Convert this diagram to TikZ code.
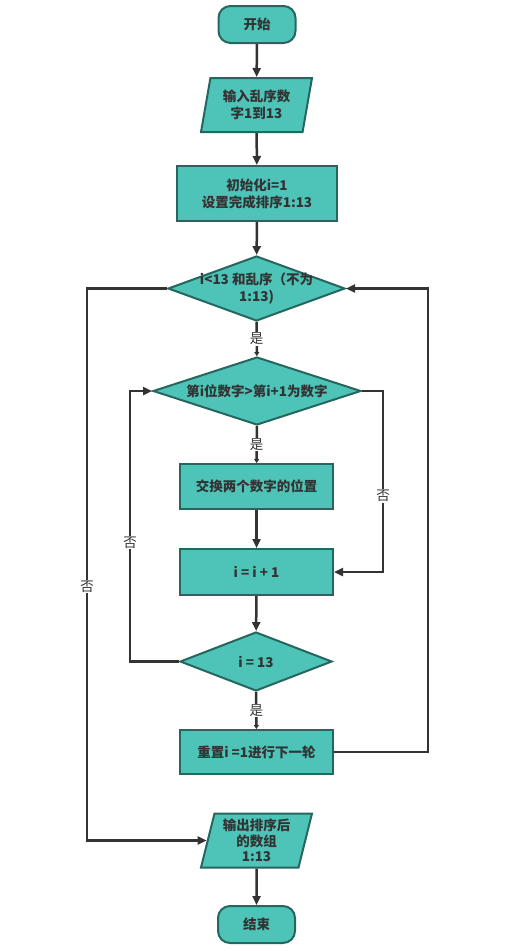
\documentclass[tikz,border=0pt]{standalone}
\usepackage{fontspec}
\setmainfont{Noto Sans CJK SC}
\usetikzlibrary{shapes.geometric,arrows.meta}
\definecolor{tfill}{HTML}{4EC3B8}
\definecolor{tdraw}{HTML}{25675E}
\definecolor{tline}{HTML}{333333}
\begin{document}
\begin{tikzpicture}[x=1pt,y=-1pt,
  tfont/.style={text=tline,font=\fontsize{13.5}{17}\selectfont\bfseries,align=center},
  base/.style={draw=tdraw,fill=tfill,line width=2pt,tfont,inner sep=0pt},
  term/.style={base,rounded corners=12pt,minimum width=77pt,minimum height=37pt},
  proc/.style={base,minimum width=153pt,minimum height=45pt},
  io/.style={base,trapezium,trapezium left angle=72.5,trapezium right angle=107.5,trapezium stretches body,minimum width=111pt,minimum height=54pt},
  dec/.style={base,diamond,aspect=2.7},
  conn/.style={draw=tline,line width=2.5pt,-{Triangle[length=9pt,width=8pt]}},
  sconn/.style={draw=tline,line width=2.5pt,-{Triangle[length=4pt,width=5pt]}},
  lbl/.style={fill=white,text=tline,font=\fontsize{13.5}{16}\selectfont,inner sep=1pt}
]
\useasboundingbox (0,0) rectangle (515,951);
\node[term] (start) at (257,24.5) {开始};
\node[io] (in) at (256.5,105) {输入乱序数\\字1到13};
\node[proc,minimum width=160pt,minimum height=55pt] (init) at (257,193.5) {初始化i=1\\设置完成排序1:13};
\node[dec,minimum width=177pt,minimum height=65pt,label={[tfont]center:i<13 和乱序（不为\\1:13)}] (d1) at (256.5,288.5) {};
\node[dec,minimum width=208pt,minimum height=68pt] (d2) at (257,391) {第i位数字>第i+1为数字};
\node[proc] (swap) at (256.5,486.5) {交换两个数字的位置};
\node[proc,minimum height=46pt] (inc) at (256.5,572) {i = i + 1};
\node[dec,minimum width=152pt,minimum height=59pt] (d3) at (256,661.5) {i = 13};
\node[proc,minimum height=44pt] (reset) at (256.5,752) {重置i =1进行下一轮};
\node[io,font=\fontsize{13.5}{15.5}\selectfont\bfseries] (out) at (256.5,840.5) {输出排序后\\的数组\\1:13};
\node[term] (end) at (256.5,924.5) {结束};

\coordinate (cl1) at (87,288.5);
\coordinate (cr2) at (383,391);
\coordinate (cl3) at (130,661.5);
\coordinate (cr4) at (428,752);

\draw[conn] (start) -- (in);
\draw[conn] (in) -- (init);
\draw[conn] (init) -- (d1);
\draw[sconn] (d1) -- node[lbl]{是} (d2);
\draw[sconn] (d2) -- node[lbl]{是} (swap);
\draw[conn] (swap) -- (inc);
\draw[conn] (inc) -- (d3);
\draw[sconn] (d3) -- node[lbl]{是} (reset);
\draw[conn] (out) -- (end);

\draw[conn] (d1.west) -- (cl1) |- node[lbl,pos=0.27]{否} (out.west);
\draw[conn] (d2.east) -- (cr2) |- node[lbl,pos=0.29]{否} (inc.east);
\draw[conn] (d3.west) -- (cl3) |- node[lbl,pos=0.22]{否} (d2.west);
\draw[conn] (reset.east) -- (cr4) |- (d1.east);
\end{tikzpicture}
\end{document}
